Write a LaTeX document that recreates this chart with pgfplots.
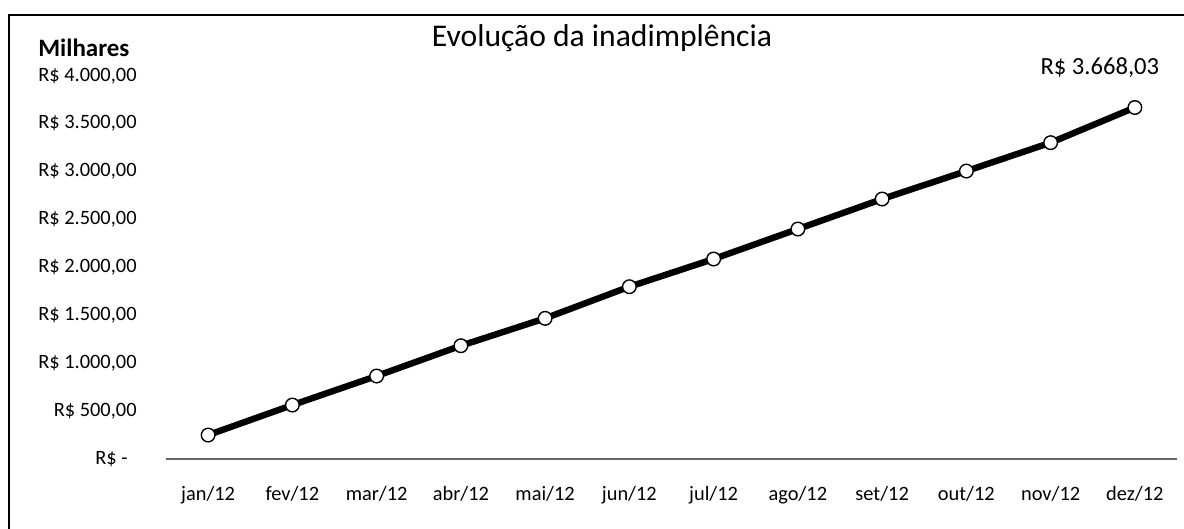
\documentclass[border=0pt]{standalone}
\usepackage{fontspec}
\setmainfont{Carlito}
\usepackage{pgfplots}
\pgfplotsset{compat=1.18}
\begin{document}
\begin{tikzpicture}
\path[use as bounding box] (-83bp,-35bp) rectangle (509bp,229.5bp);
\draw[line width=1bp] (-78.5bp,-35bp) -- (-78.5bp,222bp) -- (509bp,222bp);
\begin{axis}[at={(0,0)}, anchor=south west, scale only axis,
  width=505.5bp, height=191.65bp,
  xmin=-0.5, xmax=11.5, ymin=0, ymax=4000,
  xtick={0,...,11},
  xticklabels={jan/12,fev/12,mar/12,abr/12,mai/12,jun/12,jul/12,ago/12,set/12,out/12,nov/12,dez/12},
  ytick={0,500,1000,1500,2000,2500,3000,3500,4000},
  yticklabels={{R\$ -\rule{4.5bp}{0pt}},{R\$ 500,00},{R\$ 1.000,00},{R\$ 1.500,00},{R\$ 2.000,00},{R\$ 2.500,00},{R\$ 3.000,00},{R\$ 3.500,00},{R\$ 4.000,00}},
  axis x line*=bottom, axis y line*=left,
  y axis line style={draw=none},
  x axis line style={-, draw=black!60, line width=0.6bp},
  major tick length=0pt,
  xticklabel style={font=\fontsize{10.2bp}{12bp}\selectfont, anchor=base, yshift=-20.5bp, inner sep=0pt},
  yticklabel style={font=\fontsize{10.2bp}{12bp}\selectfont, anchor=east, inner sep=0pt, xshift=-14.5bp},
  clip=false]
\addplot[black, line width=3.2bp, mark=*, mark size=3.4bp,
  mark options={fill=white, draw=black, line width=0.7bp}] coordinates {
  (0,250) (1,563) (2,866) (3,1182) (4,1468) (5,1798)
  (6,2087) (7,2400) (8,2713) (9,3005) (10,3301) (11,3668.03)
};
\node[anchor=base, inner sep=0pt, xshift=-17.5bp, yshift=16.5bp,
  font=\fontsize{12.3bp}{14bp}\selectfont] at (axis cs:11,3668.03) {R\$ 3.668,03};
\end{axis}
\node[anchor=base, inner sep=0pt, font=\fontsize{15.8bp}{19bp}\selectfont] at (218bp,206bp) {Evolução da inadimplência};
\node[anchor=base west, inner sep=0pt, font=\bfseries\fontsize{12.5bp}{15bp}\selectfont] at (-64bp,201bp) {Milhares};
\end{tikzpicture}
\end{document}
